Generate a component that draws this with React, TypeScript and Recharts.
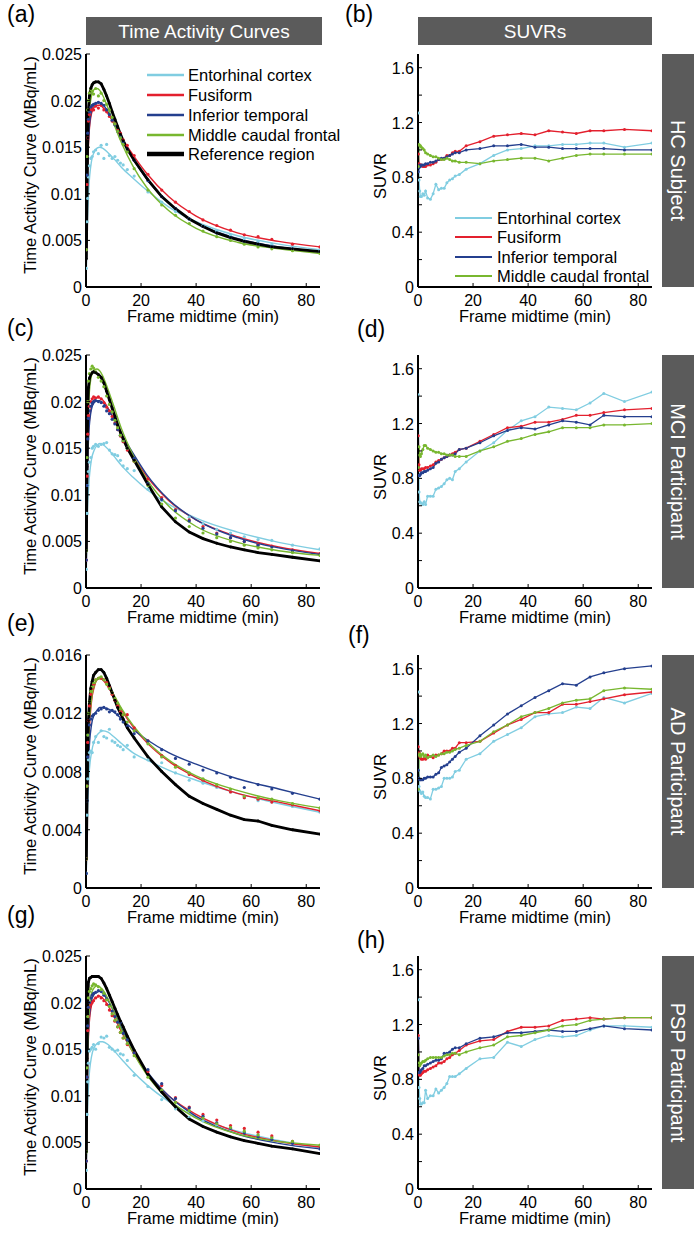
import React from "react";
import { ComposedChart, Line, XAxis, YAxis } from "recharts";

const FONT = '"Liberation Sans", Arial, Helvetica, sans-serif';

const regionNames = ["Entorhinal cortex", "Fusiform", "Inferior temporal", "Middle caudal frontal"];
const regionColors = ["#80cde1", "#e3202e", "#243f8e", "#78b72f"];
const referenceName = "Reference region";
const groupNames = ["HC Subject", "MCI Participant", "AD Participant", "PSP Participant"];
const panelLetters = ["(a)", "(b)", "(c)", "(d)", "(e)", "(f)", "(g)", "(h)"];

// frame midtimes (min) of the dynamic scan, and the times the model fits are drawn at
const frameTimes = [0.125, 0.375, 0.625, 0.875, 1.25, 1.75, 2.25, 2.75, 3.5, 4.5, 5.5, 6.5, 7.5, 8.5, 9.5, 10.5, 11.5, 12.5, 13.5, 15, 17.5, 22.5, 27.5, 32.5, 37.5, 42.5, 47.5, 52.5, 57.5, 62.5, 67.5, 75, 85];
const fitTimes = [0, 0.5, 1, 2, 3, 4, 5, 6, 8, 10, 13, 17, 22, 30, 40, 55, 70, 85];

const xTicks = [0, 20, 40, 60, 80];
const tacTicks = [0, 0.005, 0.01, 0.015, 0.02, 0.025];
const tacTicksAD = [0, 0.004, 0.008, 0.012, 0.016];
const suvrTicks = [0, 0.2, 0.4, 0.6, 0.8, 1.0, 1.2, 1.4, 1.6];
const suvrLabels = [0, 0.4, 0.8, 1.2, 1.6];

// ---- HC subject, TACs (MBq/mL)
const hcRef = [0.003, 0.010, 0.016, 0.019, 0.0205, 0.0213, 0.0217, 0.0219, 0.0220, 0.0220, 0.0218, 0.0212, 0.0205, 0.0197, 0.0188, 0.0180, 0.0172, 0.0164, 0.0157, 0.0148, 0.0136, 0.0115, 0.0097, 0.0084, 0.0073, 0.0065, 0.0058, 0.0053, 0.0049, 0.0046, 0.0043, 0.0041, 0.0038];
const hcEntPts = [0.002, 0.007, 0.0095, 0.0118, 0.0130, 0.0138, 0.0140, 0.0145, 0.0147, 0.0143, 0.0152, 0.0138, 0.0153, 0.0141, 0.0138, 0.0140, 0.0136, 0.0133, 0.0131, 0.0126, 0.0119, 0.0102, 0.0091, 0.0081, 0.0073, 0.0066, 0.0060, 0.0056, 0.0052, 0.0049, 0.0046, 0.0043, 0.0040];
const hcFusPts = [0.004, 0.011, 0.016, 0.0178, 0.0185, 0.0190, 0.0192, 0.0190, 0.0194, 0.0192, 0.0195, 0.0190, 0.0188, 0.0183, 0.0178, 0.0175, 0.0168, 0.0165, 0.0158, 0.0152, 0.0141, 0.0121, 0.0104, 0.0091, 0.0081, 0.0072, 0.0066, 0.0061, 0.0056, 0.0054, 0.0051, 0.0046, 0.0043];
const hcInfPts = [0.004, 0.012, 0.0165, 0.018, 0.0188, 0.0193, 0.0195, 0.0196, 0.0197, 0.0198, 0.0197, 0.0195, 0.0190, 0.0185, 0.0179, 0.0174, 0.0167, 0.0161, 0.0156, 0.0148, 0.0136, 0.0114, 0.0097, 0.0084, 0.0073, 0.0065, 0.0058, 0.0053, 0.0049, 0.0046, 0.0043, 0.0041, 0.0038];
const hcMcfPts = [0.004, 0.014, 0.019, 0.020, 0.0208, 0.0212, 0.0210, 0.0207, 0.0213, 0.0205, 0.0208, 0.0200, 0.0196, 0.0190, 0.0182, 0.0175, 0.0167, 0.0160, 0.0153, 0.0145, 0.0127, 0.0104, 0.0088, 0.0077, 0.0068, 0.0060, 0.0054, 0.0050, 0.0046, 0.0043, 0.0041, 0.0039, 0.0036];
const hcEntFit = [0, 0.007, 0.0105, 0.0135, 0.0145, 0.0149, 0.0150, 0.0149, 0.0144, 0.0138, 0.0128, 0.0117, 0.0104, 0.0086, 0.0070, 0.0055, 0.0046, 0.0040];
const hcFusFit = [0, 0.011, 0.016, 0.0186, 0.0193, 0.0195, 0.0195, 0.0193, 0.0186, 0.0176, 0.0160, 0.0142, 0.0122, 0.0097, 0.0076, 0.0058, 0.0049, 0.0043];
const hcInfFit = [0, 0.011, 0.0163, 0.0189, 0.0196, 0.0198, 0.0198, 0.0196, 0.0188, 0.0177, 0.0159, 0.0138, 0.0116, 0.0090, 0.0069, 0.0052, 0.0043, 0.0038];
const hcMcfFit = [0, 0.013, 0.018, 0.0205, 0.0212, 0.0213, 0.0211, 0.0206, 0.0192, 0.0176, 0.0154, 0.0130, 0.0107, 0.0082, 0.0063, 0.0048, 0.0041, 0.0036];

// ---- MCI participant, TACs
const mciRef = [0.004, 0.013, 0.019, 0.0215, 0.0225, 0.0229, 0.0231, 0.0232, 0.0231, 0.0229, 0.0226, 0.0220, 0.0211, 0.0202, 0.0193, 0.0184, 0.0175, 0.0167, 0.0160, 0.0150, 0.0137, 0.0111, 0.0087, 0.0071, 0.0060, 0.0053, 0.0048, 0.0044, 0.0041, 0.0038, 0.0036, 0.0033, 0.0029];
const mciEntPts = [0.002, 0.008, 0.011, 0.0125, 0.0135, 0.0140, 0.0150, 0.0152, 0.0154, 0.0152, 0.0154, 0.0155, 0.0156, 0.0148, 0.0144, 0.0143, 0.0142, 0.0137, 0.0131, 0.0128, 0.0126, 0.0106, 0.0094, 0.0084, 0.0076, 0.0069, 0.0063, 0.0059, 0.0055, 0.0052, 0.0051, 0.0046, 0.0042];
const mciFusPts = [0.003, 0.012, 0.0165, 0.0185, 0.0195, 0.0200, 0.0203, 0.0205, 0.0204, 0.0205, 0.0203, 0.0199, 0.0194, 0.0190, 0.0184, 0.0177, 0.0170, 0.0163, 0.0157, 0.0148, 0.0136, 0.0117, 0.0097, 0.0084, 0.0073, 0.0066, 0.0059, 0.0054, 0.0050, 0.0047, 0.0045, 0.0041, 0.0037];
const mciInfPts = [0.003, 0.011, 0.016, 0.0182, 0.0190, 0.0195, 0.0198, 0.0200, 0.0201, 0.0200, 0.0199, 0.0195, 0.0190, 0.0187, 0.0181, 0.0176, 0.0170, 0.0164, 0.0158, 0.0150, 0.0139, 0.0112, 0.0095, 0.0083, 0.0072, 0.0064, 0.0058, 0.0054, 0.0050, 0.0046, 0.0044, 0.0040, 0.0036];
const mciMcfPts = [0.004, 0.014, 0.020, 0.0222, 0.0230, 0.0235, 0.0238, 0.0236, 0.0232, 0.0226, 0.0222, 0.0216, 0.0206, 0.0197, 0.0189, 0.0180, 0.0172, 0.0164, 0.0158, 0.0150, 0.0136, 0.0110, 0.0090, 0.0075, 0.0066, 0.0059, 0.0054, 0.0050, 0.0046, 0.0043, 0.0041, 0.0038, 0.0035];
const mciEntFit = [0, 0.008, 0.011, 0.0138, 0.0148, 0.0153, 0.0155, 0.0154, 0.0149, 0.0142, 0.0131, 0.0119, 0.0106, 0.0090, 0.0075, 0.0060, 0.0049, 0.0041];
const mciFusFit = [0, 0.012, 0.017, 0.0195, 0.0202, 0.0204, 0.0204, 0.0202, 0.0193, 0.0182, 0.0163, 0.0142, 0.0120, 0.0094, 0.0073, 0.0055, 0.0044, 0.0037];
const mciInfFit = [0, 0.011, 0.0165, 0.0192, 0.0199, 0.0201, 0.0201, 0.0199, 0.0192, 0.0182, 0.0165, 0.0145, 0.0122, 0.0095, 0.0073, 0.0054, 0.0043, 0.0036];
const mciMcfFit = [0, 0.014, 0.020, 0.0228, 0.0234, 0.0235, 0.0233, 0.0228, 0.0213, 0.0196, 0.0170, 0.0143, 0.0117, 0.0088, 0.0066, 0.0049, 0.0040, 0.0035];

// ---- AD participant, TACs
const adRef = [0.002, 0.006, 0.0095, 0.0115, 0.0128, 0.0137, 0.0142, 0.0146, 0.0148, 0.0150, 0.0150, 0.0148, 0.0144, 0.0139, 0.0134, 0.0129, 0.0124, 0.0120, 0.0116, 0.0110, 0.0103, 0.0090, 0.0080, 0.0071, 0.0063, 0.0058, 0.0054, 0.0050, 0.0047, 0.0046, 0.0043, 0.0040, 0.0037];
const adEntPts = [0.001, 0.005, 0.0075, 0.0088, 0.0093, 0.0094, 0.0093, 0.0100, 0.0104, 0.0100, 0.0108, 0.0104, 0.0103, 0.0109, 0.0101, 0.0100, 0.0098, 0.0097, 0.0095, 0.0098, 0.0090, 0.0088, 0.0086, 0.0079, 0.0074, 0.0072, 0.0069, 0.0066, 0.0062, 0.0060, 0.0059, 0.0056, 0.0052];
const adFusPts = [0.002, 0.007, 0.010, 0.0115, 0.0125, 0.0133, 0.0137, 0.0140, 0.0143, 0.0144, 0.0144, 0.0143, 0.0141, 0.0138, 0.0133, 0.0129, 0.0125, 0.0121, 0.0119, 0.0119, 0.0110, 0.0101, 0.0091, 0.0084, 0.0078, 0.0074, 0.0070, 0.0066, 0.0062, 0.0061, 0.0059, 0.0057, 0.0053];
const adInfPts = [0.001, 0.006, 0.009, 0.0105, 0.0112, 0.0116, 0.0118, 0.0119, 0.0120, 0.0122, 0.0123, 0.0124, 0.0123, 0.0121, 0.0122, 0.0121, 0.0119, 0.0116, 0.0114, 0.0111, 0.0106, 0.0101, 0.0095, 0.0089, 0.0085, 0.0081, 0.0079, 0.0076, 0.0069, 0.0071, 0.0068, 0.0065, 0.0061];
const adMcfPts = [0.002, 0.007, 0.0105, 0.012, 0.0128, 0.0135, 0.0138, 0.0141, 0.0143, 0.0144, 0.0145, 0.0143, 0.0140, 0.0137, 0.0134, 0.0130, 0.0127, 0.0123, 0.0119, 0.0114, 0.0108, 0.0099, 0.0090, 0.0083, 0.0079, 0.0075, 0.0071, 0.0068, 0.0063, 0.0062, 0.0061, 0.0058, 0.0055];
const adEntFit = [0, 0.005, 0.0075, 0.0093, 0.0101, 0.0105, 0.0107, 0.0108, 0.0107, 0.0104, 0.0099, 0.0093, 0.0088, 0.0081, 0.0074, 0.0065, 0.0058, 0.0052];
const adFusFit = [0, 0.007, 0.010, 0.0128, 0.0138, 0.0143, 0.0144, 0.0143, 0.0138, 0.0132, 0.0122, 0.0111, 0.0100, 0.0087, 0.0076, 0.0065, 0.0059, 0.0053];
const adInfFit = [0, 0.006, 0.0090, 0.0112, 0.0119, 0.0122, 0.0124, 0.0124, 0.0123, 0.0121, 0.0116, 0.0109, 0.0102, 0.0093, 0.0085, 0.0075, 0.0068, 0.0061];
const adMcfFit = [0, 0.007, 0.0105, 0.0130, 0.0139, 0.0143, 0.0145, 0.0144, 0.0139, 0.0133, 0.0123, 0.0112, 0.0101, 0.0088, 0.0077, 0.0067, 0.0060, 0.0055];

// ---- PSP participant, TACs
const pspRef = [0.004, 0.014, 0.020, 0.0222, 0.0226, 0.0227, 0.0228, 0.0228, 0.0228, 0.0228, 0.0226, 0.0221, 0.0215, 0.0208, 0.0201, 0.0194, 0.0187, 0.0180, 0.0174, 0.0164, 0.0149, 0.0123, 0.0104, 0.0088, 0.0075, 0.0067, 0.0061, 0.0056, 0.0052, 0.0049, 0.0046, 0.0043, 0.0038];
const pspEntPts = [0.002, 0.008, 0.0115, 0.0135, 0.0148, 0.0150, 0.0152, 0.0155, 0.0150, 0.0156, 0.0163, 0.0162, 0.0164, 0.0152, 0.0150, 0.0148, 0.0149, 0.0145, 0.0144, 0.0138, 0.0122, 0.0110, 0.0096, 0.0086, 0.0077, 0.0073, 0.0069, 0.0065, 0.0061, 0.0058, 0.0055, 0.0050, 0.0044];
const pspFusPts = [0.003, 0.012, 0.017, 0.0185, 0.0195, 0.0198, 0.0200, 0.0202, 0.0205, 0.0207, 0.0205, 0.0202, 0.0198, 0.0192, 0.0186, 0.0180, 0.0174, 0.0168, 0.0162, 0.0155, 0.0146, 0.0126, 0.0111, 0.0098, 0.0088, 0.0080, 0.0074, 0.0068, 0.0065, 0.0061, 0.0057, 0.0051, 0.0045];
const pspInfPts = [0.003, 0.012, 0.0175, 0.0195, 0.0200, 0.0205, 0.0208, 0.0210, 0.0211, 0.0213, 0.0212, 0.0208, 0.0204, 0.0197, 0.0191, 0.0185, 0.0179, 0.0179, 0.0167, 0.0160, 0.0146, 0.0128, 0.0113, 0.0097, 0.0087, 0.0078, 0.0071, 0.0065, 0.0060, 0.0056, 0.0053, 0.0049, 0.0043];
const pspMcfPts = [0.004, 0.013, 0.0185, 0.0205, 0.0212, 0.0215, 0.0218, 0.0220, 0.0219, 0.0217, 0.0214, 0.0210, 0.0203, 0.0196, 0.0188, 0.0181, 0.0174, 0.0168, 0.0162, 0.0156, 0.0143, 0.0120, 0.0106, 0.0093, 0.0084, 0.0076, 0.0070, 0.0066, 0.0062, 0.0058, 0.0055, 0.0051, 0.0047];
const pspEntFit = [0, 0.008, 0.0115, 0.0142, 0.0152, 0.0156, 0.0158, 0.0158, 0.0155, 0.0149, 0.0139, 0.0126, 0.0112, 0.0094, 0.0077, 0.0062, 0.0052, 0.0044];
const pspFusFit = [0, 0.012, 0.017, 0.0197, 0.0204, 0.0206, 0.0207, 0.0205, 0.0197, 0.0186, 0.0168, 0.0147, 0.0125, 0.0100, 0.0080, 0.0061, 0.0051, 0.0045];
const pspInfFit = [0, 0.012, 0.0175, 0.0202, 0.0209, 0.0211, 0.0212, 0.0210, 0.0202, 0.0191, 0.0172, 0.0150, 0.0127, 0.0100, 0.0078, 0.0059, 0.0049, 0.0043];
const pspMcfFit = [0, 0.013, 0.0185, 0.0210, 0.0216, 0.0218, 0.0217, 0.0214, 0.0204, 0.0191, 0.0170, 0.0147, 0.0123, 0.0096, 0.0076, 0.0059, 0.0051, 0.0047];

// ---- SUVRs
const hcSuvrEnt = [1.27, 0.78, 0.70, 0.66, 0.66, 0.68, 0.67, 0.70, 0.65, 0.64, 0.68, 0.75, 0.71, 0.72, 0.72, 0.76, 0.78, 0.79, 0.81, 0.82, 0.86, 0.90, 0.96, 1.00, 1.01, 1.03, 1.03, 1.04, 1.04, 1.05, 1.05, 1.02, 1.05];
const hcSuvrFus = [0.97, 0.90, 0.89, 0.89, 0.89, 0.88, 0.88, 0.88, 0.89, 0.89, 0.90, 0.91, 0.93, 0.93, 0.94, 0.96, 0.96, 0.98, 0.99, 0.99, 1.03, 1.06, 1.10, 1.11, 1.12, 1.11, 1.14, 1.13, 1.12, 1.14, 1.14, 1.15, 1.14];
const hcSuvrInf = [0.84, 0.87, 0.89, 0.88, 0.89, 0.89, 0.89, 0.90, 0.90, 0.91, 0.91, 0.92, 0.93, 0.94, 0.94, 0.95, 0.96, 0.97, 0.98, 0.98, 1.00, 1.01, 1.03, 1.03, 1.04, 1.02, 1.02, 1.01, 1.01, 1.01, 1.01, 1.00, 1.00];
const hcSuvrMcf = [0.88, 1.04, 1.03, 1.03, 1.02, 1.01, 1.00, 0.98, 0.97, 0.96, 0.95, 0.95, 0.94, 0.93, 0.93, 0.94, 0.93, 0.92, 0.92, 0.91, 0.91, 0.90, 0.92, 0.93, 0.94, 0.94, 0.92, 0.94, 0.96, 0.97, 0.97, 0.97, 0.97];

const mciSuvrEnt = [1.41, 0.70, 0.63, 0.62, 0.62, 0.61, 0.63, 0.61, 0.67, 0.67, 0.67, 0.72, 0.73, 0.74, 0.76, 0.79, 0.80, 0.79, 0.85, 0.87, 0.92, 1.00, 1.06, 1.15, 1.22, 1.25, 1.32, 1.31, 1.30, 1.35, 1.42, 1.36, 1.43];
const mciSuvrFus = [1.11, 0.90, 0.86, 0.86, 0.87, 0.87, 0.87, 0.88, 0.88, 0.89, 0.90, 0.92, 0.93, 0.94, 0.95, 0.96, 0.97, 0.98, 0.99, 1.01, 1.02, 1.07, 1.12, 1.17, 1.18, 1.21, 1.21, 1.23, 1.26, 1.26, 1.28, 1.30, 1.31];
const mciSuvrInf = [0.82, 0.82, 0.82, 0.83, 0.84, 0.84, 0.85, 0.85, 0.86, 0.87, 0.88, 0.91, 0.92, 0.94, 0.95, 0.96, 0.97, 0.97, 0.98, 1.01, 1.02, 1.06, 1.11, 1.15, 1.17, 1.16, 1.19, 1.22, 1.21, 1.19, 1.26, 1.25, 1.25];
const mciSuvrMcf = [0.88, 1.03, 0.97, 0.96, 0.98, 1.01, 1.04, 1.04, 1.02, 1.01, 1.00, 0.99, 0.99, 0.98, 0.98, 0.97, 0.97, 0.97, 0.96, 0.96, 0.96, 1.00, 1.03, 1.07, 1.09, 1.12, 1.14, 1.17, 1.17, 1.17, 1.19, 1.19, 1.20];

const adSuvrEnt = [1.43, 0.74, 0.71, 0.70, 0.69, 0.70, 0.67, 0.66, 0.66, 0.65, 0.72, 0.72, 0.73, 0.74, 0.80, 0.80, 0.80, 0.81, 0.85, 0.86, 0.94, 0.98, 1.07, 1.12, 1.17, 1.25, 1.27, 1.28, 1.32, 1.31, 1.39, 1.35, 1.42];
const adSuvrFus = [1.03, 0.99, 0.96, 0.95, 0.94, 0.94, 0.95, 0.94, 0.97, 0.96, 0.95, 0.97, 0.97, 0.98, 1.00, 1.00, 1.00, 1.02, 1.02, 1.06, 1.06, 1.07, 1.13, 1.19, 1.23, 1.28, 1.28, 1.34, 1.34, 1.36, 1.38, 1.41, 1.43];
const adSuvrInf = [0.86, 0.80, 0.79, 0.79, 0.79, 0.79, 0.80, 0.80, 0.81, 0.81, 0.81, 0.83, 0.84, 0.88, 0.89, 0.90, 0.92, 0.94, 0.96, 0.99, 1.02, 1.11, 1.19, 1.27, 1.33, 1.39, 1.44, 1.49, 1.48, 1.54, 1.57, 1.60, 1.62];
const adSuvrMcf = [0.72, 0.97, 0.98, 0.96, 0.97, 0.98, 0.96, 0.97, 0.95, 0.96, 0.97, 0.96, 0.97, 0.98, 0.98, 0.99, 0.99, 1.00, 1.01, 1.02, 1.04, 1.07, 1.14, 1.19, 1.25, 1.28, 1.31, 1.35, 1.37, 1.38, 1.44, 1.46, 1.45];

const pspSuvrEnt = [1.38, 0.74, 0.66, 0.62, 0.62, 0.63, 0.63, 0.72, 0.66, 0.68, 0.68, 0.73, 0.70, 0.72, 0.74, 0.77, 0.82, 0.82, 0.82, 0.84, 0.88, 0.95, 0.96, 1.07, 1.04, 1.09, 1.12, 1.11, 1.12, 1.16, 1.19, 1.19, 1.18];
const pspSuvrFus = [1.12, 0.84, 0.83, 0.83, 0.84, 0.85, 0.86, 0.86, 0.87, 0.88, 0.89, 0.90, 0.92, 0.92, 0.93, 0.95, 0.96, 0.98, 0.99, 1.01, 1.05, 1.08, 1.09, 1.15, 1.18, 1.18, 1.19, 1.23, 1.24, 1.25, 1.24, 1.25, 1.25];
const pspSuvrInf = [1.10, 0.85, 0.85, 0.86, 0.87, 0.88, 0.90, 0.90, 0.91, 0.92, 0.93, 0.94, 0.94, 0.95, 0.99, 0.99, 1.00, 1.02, 1.03, 1.03, 1.06, 1.10, 1.11, 1.14, 1.14, 1.15, 1.16, 1.15, 1.15, 1.17, 1.19, 1.17, 1.16];
const pspSuvrMcf = [0.98, 0.92, 0.90, 0.91, 0.92, 0.93, 0.93, 0.94, 0.95, 0.96, 0.96, 0.96, 0.96, 0.96, 0.97, 0.98, 0.98, 0.99, 0.99, 0.98, 1.00, 1.03, 1.05, 1.11, 1.12, 1.14, 1.16, 1.19, 1.20, 1.23, 1.24, 1.25, 1.25];

// layout (px)
const rowTops = [54, 355, 655, 956];
const plotH = 233;
const GRAY = "#5b5b5b";

const toRows = (times: number[], vals: number[]) => times.map((t, i) => ({ t, v: vals[i] }));

function XTick(props: any) {
  const { x, y, payload } = props;
  return (
    <g>
      <line x1={x} y1={y} x2={x} y2={y - 4} stroke="#000" strokeWidth={1} />
      <text x={x} y={y + 19} textAnchor="middle" fontSize={16} fontFamily={FONT} fill="#000">
        {payload.value}
      </text>
    </g>
  );
}

function makeYTick(labels: number[]) {
  return (props: any) => {
    const { x, y, payload } = props;
    const show = labels.indexOf(payload.value) >= 0;
    return (
      <g>
        <line x1={x} y1={y} x2={x + 4} y2={y} stroke="#000" strokeWidth={1} />
        {show && (
          <text x={x - 4} y={y + 6} textAnchor="end" fontSize={16} fontFamily={FONT} fill="#000">
            {String(payload.value)}
          </text>
        )}
      </g>
    );
  };
}

const axisLine = { stroke: "#000", strokeWidth: 2 };

function TacChart({ top, yMax, yTicks, refValues, points, fits }: any) {
  return (
    <div style={{ position: "absolute", left: 0, top: top - 10 }}>
      <ComposedChart width={330} height={plotH + 40} margin={{ top: 10, right: 10, bottom: 0, left: 0 }}>
        <XAxis type="number" dataKey="t" domain={[0, 85]} ticks={xTicks} interval={0} height={30}
          tickSize={0} tickMargin={0} tickLine={false} axisLine={axisLine} tick={<XTick />} allowDataOverflow />
        <YAxis type="number" domain={[0, yMax]} ticks={yTicks} interval={0} width={86}
          tickSize={0} tickMargin={0} tickLine={false} axisLine={axisLine} tick={makeYTick(yTicks)} allowDataOverflow />
        {fits.map((f: number[], i: number) => (
          <Line key={"fit" + i} data={toRows(fitTimes, f)} dataKey="v" type="monotone" stroke={regionColors[i]}
            strokeWidth={1.4} dot={false} isAnimationActive={false} />
        ))}
        {points.map((p: number[], i: number) => (
          <Line key={"pts" + i} data={toRows(frameTimes, p)} dataKey="v" stroke="none"
            dot={{ r: 1.6, fill: regionColors[i], stroke: "none" }} isAnimationActive={false} />
        ))}
        <Line data={toRows(frameTimes, refValues)} dataKey="v" type="linear" stroke="#000" strokeWidth={2.8}
          dot={{ r: 1.4, fill: "#000", stroke: "none" }} isAnimationActive={false} />
      </ComposedChart>
    </div>
  );
}

function SuvrChart({ top, series }: any) {
  return (
    <div style={{ position: "absolute", left: 340, top: top - 10 }}>
      <ComposedChart width={322} height={plotH + 40} margin={{ top: 10, right: 10, bottom: 0, left: 0 }}>
        <XAxis type="number" dataKey="t" domain={[0, 85]} ticks={xTicks} interval={0} height={30}
          tickSize={0} tickMargin={0} tickLine={false} axisLine={axisLine} tick={<XTick />} allowDataOverflow />
        <YAxis type="number" domain={[0, 1.7]} ticks={suvrTicks} interval={0} width={78}
          tickSize={0} tickMargin={0} tickLine={false} axisLine={axisLine} tick={makeYTick(suvrLabels)} allowDataOverflow />
        {series.map((s: number[], i: number) => (
          <Line key={"s" + i} data={toRows(frameTimes, s)} dataKey="v" type="linear" stroke={regionColors[i]}
            strokeWidth={1.3} dot={{ r: 1.5, fill: regionColors[i], stroke: "none" }} isAnimationActive={false} />
        ))}
      </ComposedChart>
    </div>
  );
}

const txt = { fontFamily: FONT, fill: "#000" };

export default function App() {
  const tacPanels = [
    { ref: hcRef, pts: [hcEntPts, hcFusPts, hcInfPts, hcMcfPts], fits: [hcEntFit, hcFusFit, hcInfFit, hcMcfFit], yMax: 0.025, ticks: tacTicks },
    { ref: mciRef, pts: [mciEntPts, mciFusPts, mciInfPts, mciMcfPts], fits: [mciEntFit, mciFusFit, mciInfFit, mciMcfFit], yMax: 0.025, ticks: tacTicks },
    { ref: adRef, pts: [adEntPts, adFusPts, adInfPts, adMcfPts], fits: [adEntFit, adFusFit, adInfFit, adMcfFit], yMax: 0.016, ticks: tacTicksAD },
    { ref: pspRef, pts: [pspEntPts, pspFusPts, pspInfPts, pspMcfPts], fits: [pspEntFit, pspFusFit, pspInfFit, pspMcfFit], yMax: 0.025, ticks: tacTicks },
  ];
  const suvrPanels = [
    [hcSuvrEnt, hcSuvrFus, hcSuvrInf, hcSuvrMcf],
    [mciSuvrEnt, mciSuvrFus, mciSuvrInf, mciSuvrMcf],
    [adSuvrEnt, adSuvrFus, adSuvrInf, adSuvrMcf],
    [pspSuvrEnt, pspSuvrFus, pspSuvrInf, pspSuvrMcf],
  ];
  // letter positions: [x, baseline]
  const letterPos = [[7, 22], [345, 22], [7, 336], [357, 337], [7, 631], [348, 643], [7, 923], [357, 948]];
  const tacLegendRows = [75, 95, 115, 135, 154];
  const suvrLegendRows = [218, 237, 257, 276];

  return (
    <div style={{ position: "absolute", left: 0, top: 0, width: 694, height: 1243, background: "#fff" }}>
      {tacPanels.map((p, r) => (
        <TacChart key={"tac" + r} top={rowTops[r]} yMax={p.yMax} yTicks={p.ticks} refValues={p.ref} points={p.pts} fits={p.fits} />
      ))}
      {suvrPanels.map((s, r) => (
        <SuvrChart key={"suvr" + r} top={rowTops[r]} series={s} />
      ))}
      <svg width={694} height={1243} style={{ position: "absolute", left: 0, top: 0, pointerEvents: "none" }}>
        {/* column headers */}
        <rect x={86} y={17} width={236} height={28} fill={GRAY} />
        <text x={204} y={37.5} textAnchor="middle" fontSize={19} fontFamily={FONT} fill="#fff">Time Activity Curves</text>
        <rect x={418} y={17} width={234} height={28} fill={GRAY} />
        <text x={535} y={37.5} textAnchor="middle" fontSize={19} fontFamily={FONT} fill="#fff">SUVRs</text>

        {panelLetters.map((l, i) => (
          <text key={l} x={letterPos[i][0]} y={letterPos[i][1]} fontSize={23} {...txt}>{l}</text>
        ))}

        {rowTops.map((t, r) => (
          <g key={"row" + r}>
            <rect x={662} y={t} width={32} height={plotH} fill={GRAY} />
            <text x={678} y={t + plotH / 2} textAnchor="middle" dominantBaseline="central" fontSize={20}
              fontFamily={FONT} fill="#fff" transform={`rotate(90 678 ${t + plotH / 2})`}>{groupNames[r]}</text>
            <text x={203} y={t + plotH + 35} textAnchor="middle" fontSize={16.5} {...txt}>Frame midtime (min)</text>
            <text x={535} y={t + plotH + 35} textAnchor="middle" fontSize={16.5} {...txt}>Frame midtime (min)</text>
            <text x={30} y={t + 111} textAnchor="middle" dominantBaseline="central" fontSize={16.5} {...txt}
              transform={`rotate(-90 30 ${t + 111})`}>Time Activity Curve (MBq/mL)</text>
            <text x={380} y={t + 122} textAnchor="middle" dominantBaseline="central" fontSize={16.5} {...txt}
              transform={`rotate(-90 380 ${t + 122})`}>SUVR</text>
          </g>
        ))}

        {/* legend of panel (a) */}
        {tacLegendRows.map((y, i) => (
          <g key={"tl" + i}>
            <line x1={147} y1={y} x2={184} y2={y} stroke={i < 4 ? regionColors[i] : "#000"} strokeWidth={i < 4 ? 2.6 : 4.5} />
            <text x={188} y={y + 6} fontSize={16.5} {...txt}>{i < 4 ? regionNames[i] : referenceName}</text>
          </g>
        ))}
        {/* legend of panel (b) */}
        {suvrLegendRows.map((y, i) => (
          <g key={"sl" + i}>
            <line x1={455} y1={y} x2={492} y2={y} stroke={regionColors[i]} strokeWidth={2.2} />
            <text x={497} y={y + 6} fontSize={16.5} {...txt}>{regionNames[i]}</text>
          </g>
        ))}
      </svg>
    </div>
  );
}
